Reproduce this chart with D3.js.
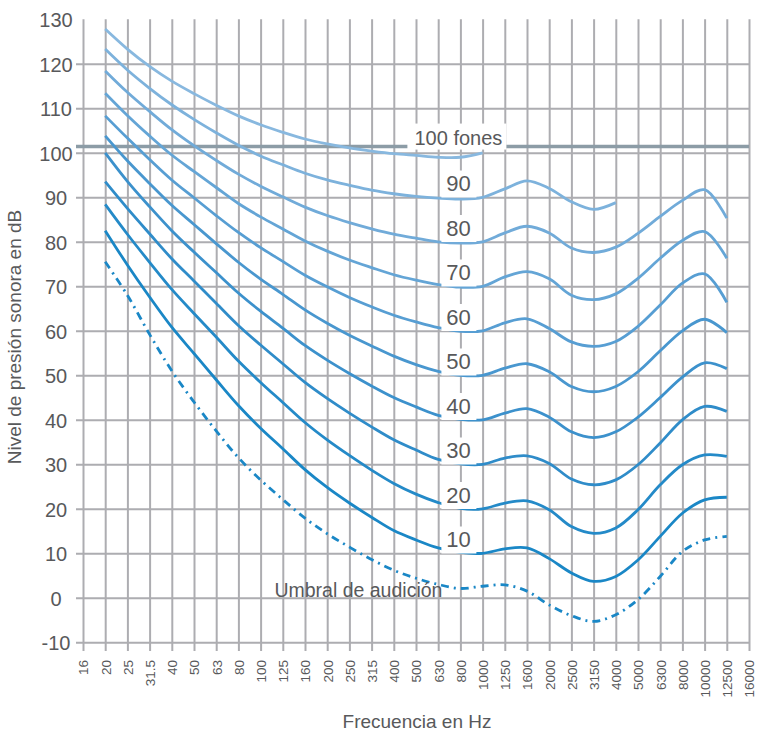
<!DOCTYPE html>
<html>
<head>
<meta charset="utf-8">
<script src="https://cdn.jsdelivr.net/npm/d3@7/dist/d3.min.js"></script>
<style>
  html, body { margin: 0; padding: 0; background: #ffffff; }
  svg { display: block; }
  text { font-family: "Liberation Sans", Arial, "Helvetica Neue", sans-serif; fill: #58595b; }
</style>
</head>
<body>
<svg id="chart" width="758" height="733"></svg>
<script>
// ---------------- DATA ----------------
const frequencies = ["16","20","25","31.5","40","50","63","80","100","125","160","200","250","315","400","500","630","800","1000","1250","1600","2000","2500","3150","4000","5000","6300","8000","10000","12500","16000"];
const yTicks = [-10,0,10,20,30,40,50,60,70,80,90,100,110,120,130];
const gridYTicks = [-10,0,10,20,30,40,50,60,70,80,90,100,110,120];

// curves start at 20 Hz (dB SPL per frequency)
const phon100 = [127.8,123.3,119.4,116.1,113.3,110.7,108.3,106.3,104.6,103.1,102.0,101.1,100.4,99.8,99.4,99.0,99.0,100.0];
const phon90  = [123.3,118.6,114.5,110.8,107.5,104.5,101.7,99.3,97.3,95.4,93.9,92.7,91.6,90.8,90.2,89.8,89.6,90.0,91.9,93.7,92.0,89.0,87.3,88.8];
const phon80  = [118.4,113.6,109.3,105.2,101.6,98.3,95.2,92.5,90.1,87.8,85.9,84.3,82.9,81.7,80.8,80.0,79.7,80.0,82.0,83.5,82.0,78.6,77.6,78.8,81.9,85.7,89.3,91.7,85.3];
const phon70  = [113.4,108.4,103.8,99.5,95.8,92.2,88.6,85.6,82.9,80.2,77.9,75.9,74.2,72.6,71.4,70.4,69.8,70.0,72.1,73.3,71.7,68.0,67.0,68.3,71.8,76.3,80.3,82.3,76.3];
const phon60  = [108.3,103.3,98.5,93.9,89.9,85.9,82.1,78.7,75.6,72.5,69.9,67.5,65.4,63.5,62.0,60.7,59.9,60.0,61.8,62.7,60.5,57.5,56.5,57.6,61.0,65.8,70.7,72.8,66.4];
const phon50  = [103.8,98.2,93.1,88.2,83.9,79.6,75.4,71.6,68.2,64.7,61.7,59.0,56.6,54.3,52.4,50.9,50.0,50.0,51.6,52.6,50.8,47.5,46.3,47.5,50.8,55.5,60.0,62.6,59.6];
const phon40  = [100.0,93.6,87.9,82.5,77.7,73.1,68.5,64.4,60.6,56.7,53.4,50.4,47.6,45.0,42.9,41.0,40.1,40.0,41.5,42.5,40.6,37.3,36.0,37.3,40.6,45.0,49.6,52.8,51.5];
const phon30  = [93.5,87.5,81.8,76.2,71.2,66.2,61.2,56.8,52.6,48.4,44.8,41.5,38.4,35.5,33.2,31.1,30.1,30.0,31.4,31.9,30.2,26.7,25.4,26.5,29.9,34.8,40.0,43.0,41.9];
const phon20  = [88.4,81.7,75.4,69.3,63.9,58.6,53.2,48.4,43.9,39.4,35.5,32.0,28.7,25.7,23.3,21.4,20.1,20.0,21.3,21.8,19.8,16.0,14.5,15.7,19.8,25.4,29.9,32.1,31.8];
const phon10  = [82.5,74.8,67.6,60.8,54.9,49.0,43.2,38.1,33.5,28.8,24.8,21.3,18.1,15.1,13.0,11.2,10.2,10.0,11.0,11.2,8.8,5.6,3.7,4.8,8.5,13.8,19.0,22.0,22.6];
const threshold = [75.5,68.0,59.2,51.0,44.0,37.5,31.5,26.5,22.1,17.9,14.4,11.4,8.6,6.2,4.4,3.0,2.1,2.6,2.9,1.5,-1.6,-4.0,-5.3,-3.8,-0.4,4.8,10.4,13.0,13.8];

const phonLevels = [100,90,80,70,60,50,40,30,20,10];
const phonLabels = ["100 fones","90","80","70","60","50","40","30","20","10"];
const curveColors = ["#88b8df","#7db2dc","#71abd9","#64a5d6","#579ed3","#4997cf","#3c91cc","#2f8cc9","#248ac8","#1a87c6"];
const thresholdColor = "#1a87c6";
const fonesLineLevel = 101.4;
const labelFreq = "800";
const thresholdLabel = "Umbral de audición";
const xTitle = "Frecuencia en Hz";
const yTitle = "Nivel de presión sonora en dB";

// ---------------- CHART ----------------
const svg = d3.select("#chart");
const x = d3.scalePoint().domain(frequencies).range([83, 749]);
const y = d3.scaleLinear().domain([-10, 130]).range([642.3, 19.3]);
const freqs20 = frequencies.slice(1);

const gridColor = "#adadb1";
const gridTop = y(130), gridBottom = 651, gridLeft = 76, gridRight = x("16000");

// vertical grid via axis
svg.append("g")
  .attr("transform", `translate(0,${gridBottom})`)
  .call(d3.axisBottom(x).tickSize(-(gridBottom - gridTop)).tickFormat(""))
  .call(g => g.select(".domain").remove())
  .call(g => g.selectAll("line").attr("stroke", gridColor).attr("stroke-width", 2));

// horizontal grid
svg.append("g")
  .attr("transform", `translate(${gridRight},0)`)
  .call(d3.axisLeft(y).tickValues(gridYTicks).tickSize(gridRight - gridLeft).tickFormat(""))
  .call(g => g.select(".domain").remove())
  .call(g => g.selectAll("line").attr("stroke", gridColor).attr("stroke-width", 2));

// y labels
svg.append("g")
  .call(d3.axisLeft(y).tickValues(yTicks).tickSize(0).tickFormat(d => String(d)))
  .call(g => g.select(".domain").remove())
  .call(g => g.selectAll("text")
    .attr("x", 56).attr("text-anchor", "middle").attr("dy", "0.36em")
    .style("font-size", "20px").style("fill", "#58595b"));

// x labels
svg.append("g")
  .attr("transform", "translate(0,660)")
  .call(d3.axisBottom(x).tickSize(0))
  .call(g => g.select(".domain").remove())
  .call(g => g.selectAll("text")
    .attr("x", 0).attr("y", 0).attr("dy", "0.36em")
    .attr("transform", "rotate(-90)").attr("text-anchor", "end")
    .style("font-size", "13.5px").style("fill", "#58595b"));

// curves
const line = d3.line()
  .x((d, i) => x(freqs20[i]))
  .y(d => y(d))
  .curve(d3.curveCatmullRom.alpha(0.5));

const allCurves = [phon100, phon90, phon80, phon70, phon60, phon50, phon40, phon30, phon20, phon10];

// 100 fones reference line
svg.append("line")
  .attr("x1", gridLeft).attr("x2", gridRight)
  .attr("y1", y(fonesLineLevel)).attr("y2", y(fonesLineLevel))
  .attr("stroke", "#8c9ca6").attr("stroke-width", 3.5);

svg.append("g").selectAll("path").data(allCurves).join("path")
  .attr("d", d => line(d))
  .attr("fill", "none")
  .attr("stroke", (d, i) => curveColors[i])
  .attr("stroke-width", 2.8);

svg.append("path")
  .attr("d", line(threshold))
  .attr("fill", "none")
  .attr("stroke", thresholdColor)
  .attr("stroke-width", 2.8)
  .attr("stroke-dasharray", "8,5,2,5");

// curve labels
const lx = x(labelFreq) - 2;
const labels = svg.append("g");
phonLevels.forEach((p, i) => {
  if (i === 0) {
    const cy = y(fonesLineLevel) - 9;
    labels.append("rect").attr("x", lx - 51).attr("y", cy - 14).attr("width", 99).attr("height", 26).attr("fill", "#fff");
    labels.append("text").attr("x", lx).attr("y", cy).attr("dy", "0.36em")
      .attr("text-anchor", "middle").style("font-size", "20px").text(phonLabels[i]);
  } else {
    const cy = y(p + 3.1);
    labels.append("rect").attr("x", lx - 17).attr("y", cy - 13).attr("width", 35).attr("height", 27).attr("fill", "#fff");
    labels.append("text").attr("x", lx).attr("y", cy).attr("dy", "0.36em")
      .attr("text-anchor", "middle").style("font-size", "22px").text(phonLabels[i]);
  }
});

// threshold label
svg.append("text")
  .attr("x", x("250") - 75).attr("y", y(0) - 1)
  .style("font-size", "19.5px").text(thresholdLabel);

// axis titles
svg.append("text")
  .attr("x", 417).attr("y", 728).attr("text-anchor", "middle")
  .style("font-size", "19px").text(xTitle);
svg.append("text")
  .attr("transform", "translate(21,337) rotate(-90)").attr("text-anchor", "middle")
  .style("font-size", "19px").text(yTitle);
</script>
</body>
</html>
